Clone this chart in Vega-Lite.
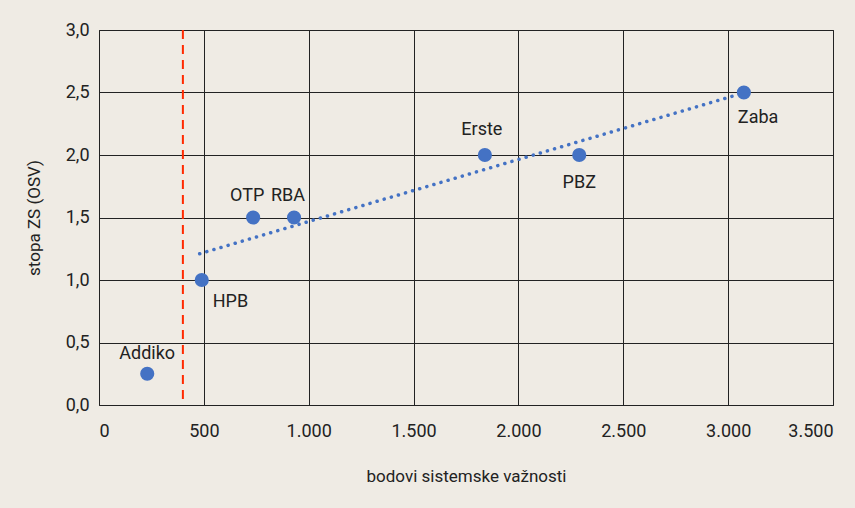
{
  "$schema": "https://vega.github.io/schema/vega-lite/v6.json",
  "width": 734,
  "height": 375,
  "autosize": {"type": "none"},
  "padding": {"left": 99, "top": 30, "right": 22, "bottom": 103},
  "background": "#efebe4",
  "config": {
    "locale": {"number": {"decimal": ",", "thousands": ".", "grouping": [3], "currency": ["", ""]}},
    "font": "Roboto, sans-serif",
    "view": {"stroke": "#222", "strokeWidth": 1}
  },
  "datasets": {
    "banks": [
      {"name": "Addiko", "bodovi": 230, "stopa": 0.25},
      {"name": "HPB", "bodovi": 490, "stopa": 1.0},
      {"name": "OTP", "bodovi": 735, "stopa": 1.5},
      {"name": "RBA", "bodovi": 930, "stopa": 1.5},
      {"name": "Erste", "bodovi": 1840, "stopa": 2.0},
      {"name": "PBZ", "bodovi": 2290, "stopa": 2.0},
      {"name": "Zaba", "bodovi": 3075, "stopa": 2.5}
    ],
    "trend": [
      {"bodovi": 480, "stopa": 1.21},
      {"bodovi": 3050, "stopa": 2.485}
    ],
    "prag": [
      {"bodovi": 400}
    ]
  },
  "layer": [
    {
      "data": {"name": "trend"},
      "mark": {"type": "line", "color": "#4472c4", "strokeWidth": 3.5, "strokeCap": "round", "strokeDash": [0.1, 7.3]},
      "encoding": {
        "x": {
          "field": "bodovi", "type": "quantitative",
          "scale": {"domain": [0, 3500], "nice": false},
          "axis": {
            "values": [0, 500, 1000, 1500, 2000, 2500, 3000, 3500],
            "format": ",.0f",
            "title": "bodovi sistemske važnosti",
            "grid": true, "gridColor": "#222", "gridOpacity": 1, "gridWidth": 1,
            "domain": false, "ticks": false,
            "labelFontSize": 18, "labelColor": "#222", "labelPadding": 17,
            "titleFontSize": 17, "titleFontWeight": "normal", "titleColor": "#222", "titlePadding": 28
          }
        },
        "y": {
          "field": "stopa", "type": "quantitative",
          "scale": {"domain": [0, 3], "nice": false},
          "axis": {
            "values": [0, 0.5, 1, 1.5, 2, 2.5, 3],
            "format": ".1f",
            "title": "stopa ZS (OSV)",
            "grid": true, "gridColor": "#222", "gridOpacity": 1, "gridWidth": 1,
            "domain": false, "ticks": false,
            "labelFontSize": 18, "labelColor": "#222", "labelPadding": 10,
            "titleFontSize": 17, "titleFontWeight": "normal", "titleColor": "#222", "titlePadding": 22
          }
        }
      }
    },
    {
      "data": {"name": "prag"},
      "mark": {"type": "rule", "color": "#ff2a00", "strokeWidth": 2, "strokeDash": [9, 6]},
      "encoding": {"x": {"field": "bodovi", "type": "quantitative"}}
    },
    {
      "data": {"name": "banks"},
      "mark": {"type": "circle", "color": "#4472c4", "opacity": 1, "size": 200},
      "encoding": {
        "x": {"field": "bodovi", "type": "quantitative"},
        "y": {"field": "stopa", "type": "quantitative"}
      }
    },
    {
      "data": {"name": "banks"},
      "transform": [{"filter": "datum.name === 'Addiko'"}],
      "mark": {"type": "text", "fontSize": 18, "color": "#222", "align": "center", "baseline": "middle", "dy": -20},
      "encoding": {
        "x": {"field": "bodovi", "type": "quantitative"},
        "y": {"field": "stopa", "type": "quantitative"},
        "text": {"field": "name"}
      }
    },
    {
      "data": {"name": "banks"},
      "transform": [{"filter": "datum.name === 'HPB'"}],
      "mark": {"type": "text", "fontSize": 18, "color": "#222", "align": "left", "baseline": "middle", "dx": 11, "dy": 22},
      "encoding": {
        "x": {"field": "bodovi", "type": "quantitative"},
        "y": {"field": "stopa", "type": "quantitative"},
        "text": {"field": "name"}
      }
    },
    {
      "data": {"name": "banks"},
      "transform": [{"filter": "datum.name === 'OTP' || datum.name === 'RBA'"}],
      "mark": {"type": "text", "fontSize": 18, "color": "#222", "align": "center", "baseline": "middle", "dx": -6, "dy": -22},
      "encoding": {
        "x": {"field": "bodovi", "type": "quantitative"},
        "y": {"field": "stopa", "type": "quantitative"},
        "text": {"field": "name"}
      }
    },
    {
      "data": {"name": "banks"},
      "transform": [{"filter": "datum.name === 'Erste'"}],
      "mark": {"type": "text", "fontSize": 18, "color": "#222", "align": "center", "baseline": "middle", "dx": -3, "dy": -25},
      "encoding": {
        "x": {"field": "bodovi", "type": "quantitative"},
        "y": {"field": "stopa", "type": "quantitative"},
        "text": {"field": "name"}
      }
    },
    {
      "data": {"name": "banks"},
      "transform": [{"filter": "datum.name === 'PBZ'"}],
      "mark": {"type": "text", "fontSize": 18, "color": "#222", "align": "center", "baseline": "middle", "dy": 28},
      "encoding": {
        "x": {"field": "bodovi", "type": "quantitative"},
        "y": {"field": "stopa", "type": "quantitative"},
        "text": {"field": "name"}
      }
    },
    {
      "data": {"name": "banks"},
      "transform": [{"filter": "datum.name === 'Zaba'"}],
      "mark": {"type": "text", "fontSize": 18, "color": "#222", "align": "left", "baseline": "middle", "dx": -6, "dy": 25},
      "encoding": {
        "x": {"field": "bodovi", "type": "quantitative"},
        "y": {"field": "stopa", "type": "quantitative"},
        "text": {"field": "name"}
      }
    }
  ]
}
